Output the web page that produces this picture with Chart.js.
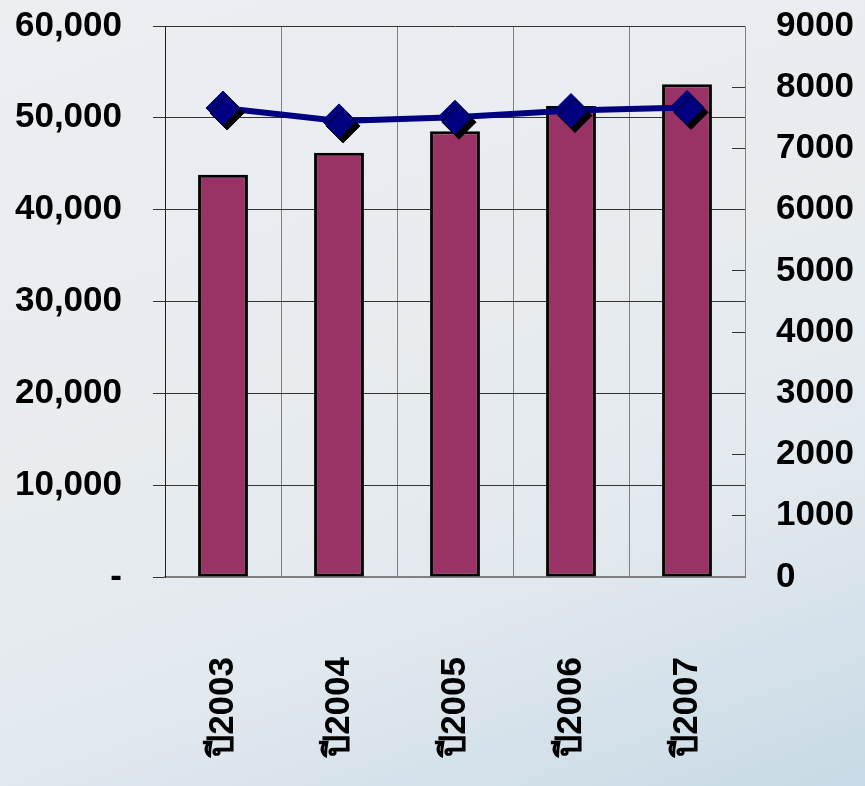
<!DOCTYPE html>
<html lang="th">
<head>
    <meta charset="UTF-8">
    <title>Chart</title>
    <script src="https://cdn.jsdelivr.net/npm/chart.js"></script>
    <style>
        html, body { margin: 0; padding: 0; }
        body {
            width: 865px; height: 786px; overflow: hidden;
            background: linear-gradient(160deg, #eceef2 0%, #e8ecef 45%, #e2e9ee 70%, #c8dae6 100%);
        }
        .chart-container { position: relative; width: 865px; height: 786px; }
    </style>
</head>
<body>
    <div class="chart-container">
        <canvas id="chart"></canvas>
    </div>

    <script>
        // data
        const years = ['ปี2003', 'ปี2004', 'ปี2005', 'ปี2006', 'ปี2007'];
        const barValues = [43800, 46200, 48550, 51300, 53650];   // left axis
        const lineValues = [7660, 7450, 7510, 7620, 7670];       // right axis

        const tickFont = { family: "'Liberation Sans', Arial, sans-serif", size: 35, weight: 'bold' };

        // shadow only for the diamond markers
        const markerShadow = {
            id: 'markerShadow',
            beforeDatasetDraw(chart, args) {
                if (args.index !== 2) return;
                const ctx = chart.ctx;
                ctx.save();
                ctx.shadowColor = '#000';
                ctx.shadowOffsetX = 4;
                ctx.shadowOffsetY = 5;
                ctx.shadowBlur = 0;
            },
            afterDatasetDraw(chart, args) {
                if (args.index !== 2) return;
                chart.ctx.restore();
            }
        };

        // fixed axis sizes, no extra label padding at top/bottom
        function fixWidth(w) {
            return function (scale) {
                scale.width = w;
                scale.paddingTop = 0;
                scale.paddingBottom = 0;
            };
        }

        new Chart(document.getElementById('chart'), {
            data: {
                labels: years,
                datasets: [{
                    type: 'bar',
                    data: barValues,
                    yAxisID: 'y',
                    backgroundColor: '#993366',
                    borderColor: '#000',
                    borderWidth: 3,
                    borderSkipped: false,
                    barPercentage: 0.43,
                    categoryPercentage: 1,
                    order: 3
                }, {
                    type: 'line',
                    data: lineValues,
                    yAxisID: 'y1',
                    borderColor: '#000080',
                    borderWidth: 6,
                    pointRadius: 0,
                    tension: 0,
                    order: 2
                }, {
                    type: 'line',
                    data: lineValues,
                    yAxisID: 'y1',
                    showLine: false,
                    pointStyle: 'rectRot',
                    pointRadius: 17,
                    backgroundColor: '#000080',
                    borderColor: '#000080',
                    borderWidth: 1,
                    order: 1
                }]
            },
            options: {
                responsive: true,
                maintainAspectRatio: false,
                animation: false,
                layout: { padding: { top: 26 } },
                plugins: { legend: { display: false }, tooltip: { enabled: false } },
                scales: {
                    x: {
                        offset: true,
                        grid: { offset: true, color: '#808080', lineWidth: 1, drawTicks: false },
                        border: { color: '#808080', width: 2 },
                        ticks: { color: '#000', font: tickFont, minRotation: 90, maxRotation: 90, padding: 80 },
                        afterFit(scale) { scale.height = 209; }
                    },
                    y: {
                        position: 'left',
                        min: 0, max: 60000,
                        grid: { color: '#333', lineWidth: 1, tickLength: 12 },
                        border: { color: '#222', width: 1 },
                        ticks: {
                            stepSize: 10000,
                            color: '#000',
                            font: tickFont,
                            padding: 31,
                            callback: v => v === 0 ? '-' : v.toLocaleString('en-US')
                        },
                        afterFit: fixWidth(165)
                    },
                    y1: {
                        position: 'right',
                        min: 0, max: 9000,
                        grid: { drawOnChartArea: false, color: '#333', tickLength: -13 },
                        border: { color: '#808080', width: 1 },
                        ticks: { stepSize: 1000, color: '#000', font: tickFont, padding: 44, callback: v => String(v) },
                        afterFit: fixWidth(120)
                    }
                }
            },
            plugins: [markerShadow]
        });
    </script>
</body>
</html>
